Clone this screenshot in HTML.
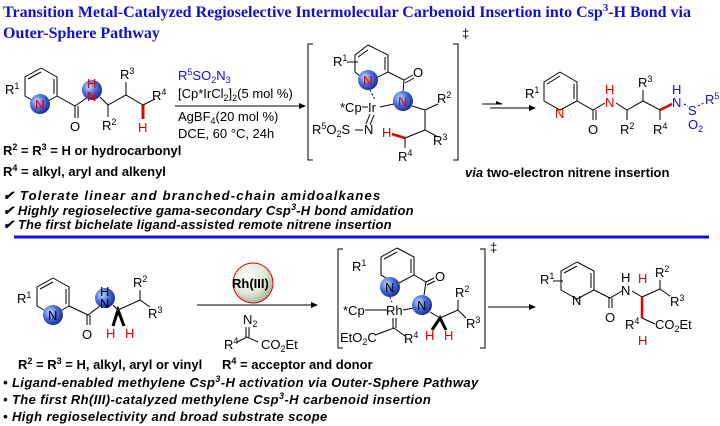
<!DOCTYPE html>
<html><head><meta charset="utf-8"><style>
html,body{margin:0;padding:0;background:#fff}
svg{display:block}
text{font-family:"Liberation Sans",Arial,sans-serif;font-size:13px;fill:#000}
.t{font-family:"Liberation Serif",serif;font-weight:bold;font-size:16px;fill:#1010d0}
.b{font-weight:bold}
.bi{font-weight:bold;font-style:italic}
.r{fill:#e00000}
.bl{fill:#1010d0}
.s{font-size:9px}
line,polyline,path{stroke:#000;stroke-width:1;fill:none}
path.ah{fill:#000;stroke:none}
</style></head><body>
<svg width="720" height="426" viewBox="0 0 720 426" xmlns="http://www.w3.org/2000/svg">
<defs>
<radialGradient id="g" cx="35%" cy="35%" r="70%"><stop offset="0" stop-color="#c8d8ff"/><stop offset="0.5" stop-color="#4a70e0"/><stop offset="1" stop-color="#1a2a90"/></radialGradient>
<radialGradient id="g2" cx="40%" cy="35%" r="70%"><stop offset="0" stop-color="#ffffff"/><stop offset="0.6" stop-color="#dfe8d8"/><stop offset="1" stop-color="#9ab090"/></radialGradient>
</defs>
<!-- title -->
<text class="t" x="3" y="17">Transition Metal-Catalyzed Regioselective Intermolecular Carbenoid Insertion into Csp<tspan dy="-6" font-size="11">3</tspan><tspan dy="6">-H Bond via</tspan></text>
<text class="t" x="3" y="38">Outer-Sphere Pathway</text>

<!-- top-left molecule -->
<polyline points="41,68 57,77 57,96 41,105 25,96 25,77 41,68"/>
<line x1="28" y1="79" x2="41" y2="72"/><line x1="54" y1="79" x2="54" y2="94"/>
<circle cx="40" cy="104" r="10" fill="url(#g)" stroke="none"/>
<text class="r" x="35" y="109" font-size="12">N</text>
<text x="5" y="94">R<tspan class="s" dy="-5">1</tspan></text>
<polyline points="57,96 75,106 88,97"/>
<line x1="75" y1="106" x2="75" y2="118"/><line x1="78" y1="106" x2="78" y2="118"/>
<text x="70" y="131">O</text>
<circle cx="92" cy="90" r="10" fill="url(#g)" stroke="none"/>
<text class="r" x="87" y="88" font-size="12">H</text><text class="r" x="87" y="101" font-size="12">N</text>
<polyline points="100,97 108,105 126,95 143,105"/>
<line x1="126" y1="95" x2="126" y2="82"/>
<text x="120" y="79">R<tspan class="s" dy="-5">3</tspan></text>
<line x1="108" y1="105" x2="108" y2="117"/>
<text x="102" y="130">R<tspan class="s" dy="-5">2</tspan></text>
<line x1="143" y1="105" x2="155" y2="99"/>
<text x="152" y="100">R<tspan class="s" dy="-5">4</tspan></text>
<line x1="143" y1="105" x2="143" y2="119" style="stroke:#e00000;stroke-width:3"/>
<text class="r" x="138" y="132">H</text>

<!-- conditions 1 -->
<text class="bl" x="178" y="80">R<tspan class="s" dy="-5">5</tspan><tspan dy="5">SO</tspan><tspan class="s" dy="3">2</tspan><tspan dy="-3">N</tspan><tspan class="s" dy="3">3</tspan></text>
<text x="178" y="98">[Cp*IrCl<tspan class="s" dy="3">2</tspan><tspan dy="-3">]</tspan><tspan class="s" dy="3">2</tspan><tspan dy="-3">(5 mol %)</tspan></text>
<line x1="175" y1="106" x2="300" y2="106"/><path class="ah" d="M299,103 L306,106 L299,109 Z"/>
<text x="178" y="121">AgBF<tspan class="s" dy="3">4</tspan><tspan dy="-3">(20 mol %)</tspan></text>
<text x="178" y="138">DCE, 60 °C, 24h</text>
<text class="b" x="3" y="155">R<tspan class="s" dy="-5">2</tspan><tspan dy="5"> = R</tspan><tspan class="s" dy="-5">3</tspan><tspan dy="5"> = H or hydrocarbonyl</tspan></text>
<text class="b" x="3" y="176">R<tspan class="s" dy="-5">4</tspan><tspan dy="5"> = alkyl, aryl and alkenyl</tspan></text>

<!-- bracket 1 -->
<polyline points="313,44 308,44 308,160 313,160"/>
<polyline points="453,44 458,44 458,160 453,160"/>
<text x="462" y="38" font-size="11">‡</text>
<polyline points="368,45 388,55 388,72 368,82 355,72 355,55 368,45"/>
<line x1="358" y1="57" x2="368" y2="50"/><line x1="385" y1="57" x2="385" y2="70"/>
<text x="333" y="66">R<tspan class="s" dy="-5">1</tspan></text>
<line x1="347" y1="62" x2="358" y2="62"/>
<circle cx="368" cy="80" r="10" fill="url(#g)" stroke="none"/>
<text class="r" x="363" y="85" font-size="12">N</text>
<polyline points="388,72 404,80 403,92"/>
<line x1="404" y1="80" x2="413" y2="75"/><line x1="405" y1="83" x2="414" y2="78"/>
<text x="413" y="77">O</text>
<line x1="370" y1="90" x2="375" y2="100" stroke-dasharray="2,2"/>
<text x="340" y="112">*Cp</text><line x1="362" y1="107" x2="368" y2="107"/>
<text x="368" y="112">Ir</text>
<line x1="380" y1="107" x2="394" y2="104"/>
<circle cx="403" cy="101" r="10" fill="url(#g)" stroke="none"/>
<text class="r" x="398" y="106" font-size="12">N</text>
<line x1="370" y1="114" x2="366" y2="124"/><line x1="374" y1="115" x2="370" y2="125"/>
<text x="312" y="134">R<tspan class="s" dy="-5">5</tspan><tspan dy="5">O</tspan><tspan class="s" dy="3">2</tspan><tspan dy="-3">S</tspan></text>
<line x1="355" y1="130" x2="363" y2="130"/><text x="364" y="134">N</text>
<polyline points="412,106 425,110 438,104"/>
<text x="437" y="103">R<tspan class="s" dy="-5">2</tspan></text>
<polyline points="425,110 425,130 438,137"/>
<text x="433" y="145">R<tspan class="s" dy="-5">3</tspan></text>
<line x1="425" y1="130" x2="405" y2="138"/>
<line x1="405" y1="138" x2="392" y2="134" style="stroke:#e00000;stroke-width:2.5"/>
<text class="r" x="382" y="137">H</text>
<line x1="405" y1="138" x2="405" y2="148"/>
<text x="398" y="161">R<tspan class="s" dy="-5">4</tspan></text>

<!-- arrows -->
<line x1="482" y1="104" x2="502" y2="104"/><path class="ah" d="M496,101 L503,104 L496,104Z"/>
<line x1="490" y1="108" x2="533" y2="108"/><path class="ah" d="M529,105 L536,108 L529,111Z"/>

<!-- product 1 -->
<polyline points="560,72 577,82 577,101 560,110 544,101 544,82 560,72"/>
<line x1="547" y1="84" x2="560" y2="76"/><line x1="574" y1="84" x2="574" y2="99"/>
<text x="525" y="98">R<tspan class="s" dy="-5">1</tspan></text>
<text class="r" x="555" y="118">N</text>
<polyline points="577,101 593,110 605,103"/>
<line x1="593" y1="110" x2="593" y2="120"/><line x1="596" y1="110" x2="596" y2="120"/>
<text x="588" y="134">O</text>
<text class="r" x="605" y="94" font-size="12">H</text><text class="r" x="605" y="107">N</text>
<polyline points="616,103 627,110 643,101 660,110 670,105"/>
<line x1="643" y1="101" x2="643" y2="90"/>
<text x="638" y="87">R<tspan class="s" dy="-5">3</tspan></text>
<line x1="627" y1="110" x2="627" y2="120"/>
<text x="620" y="134">R<tspan class="s" dy="-5">2</tspan></text>
<line x1="660" y1="110" x2="660" y2="120"/>
<text x="653" y="134">R<tspan class="s" dy="-5">4</tspan></text>
<line x1="660" y1="110" x2="672" y2="104" style="stroke:#e00000;stroke-width:2.5"/>
<text class="bl" x="672" y="94" font-size="12">H</text><text class="bl" x="672" y="107">N</text>
<line x1="684" y1="104" x2="688" y2="106" stroke-dasharray="2,2"/>
<text class="bl" x="688" y="115">S</text>
<line x1="698" y1="106" x2="704" y2="103" stroke-dasharray="2,2"/>
<text class="bl" x="705" y="104">R<tspan class="s" dy="-5">5</tspan></text>
<text class="bl" x="688" y="129">O<tspan class="s" dy="3">2</tspan></text>
<text class="b" x="465" y="177"><tspan font-style="italic">via</tspan>  two-electron nitrene insertion</text>

<!-- bullets 1 -->
<text class="bi" x="3" y="200" font-size="12" letter-spacing="1.2">✔ Tolerate linear and branched-chain amidoalkanes</text>
<text class="bi" x="3" y="215" font-size="12" letter-spacing="0.2">✔ Highly regioselective gama-secondary Csp<tspan dy="-5" font-size="9">3</tspan><tspan dy="5">-H bond amidation</tspan></text>
<text class="bi" x="3" y="229" font-size="12" letter-spacing="0.2">✔ The first bichelate ligand-assisted remote nitrene insertion</text>
<line x1="14" y1="237" x2="709" y2="237" style="stroke:#1010e0;stroke-width:3"/>

<!-- bottom-left molecule -->
<polyline points="53,278 69,287 69,306 53,315 37,306 37,287 53,278"/>
<line x1="40" y1="289" x2="53" y2="282"/><line x1="66" y1="289" x2="66" y2="304"/>
<text x="17" y="303">R<tspan class="s" dy="-5">1</tspan></text>
<circle cx="53" cy="315" r="10" fill="url(#g)" stroke="none"/>
<text x="48" y="320" font-size="12">N</text>
<polyline points="69,306 88,315 100,306"/>
<line x1="87" y1="315" x2="87" y2="325"/><line x1="90" y1="315" x2="90" y2="325"/>
<text x="82" y="339">O</text>
<circle cx="105" cy="298" r="10" fill="url(#g)" stroke="none"/>
<text x="100" y="296" font-size="12">H</text><text x="100" y="308" font-size="12">N</text>
<polyline points="113,305 118,310 140,300"/>
<path d="M113,326 L118,310 L124,326" style="stroke-width:3"/>
<text class="r" x="106" y="338">H</text><text class="r" x="125" y="338">H</text>
<line x1="140" y1="300" x2="140" y2="290"/>
<text x="133" y="287">R<tspan class="s" dy="-5">2</tspan></text>
<line x1="140" y1="300" x2="150" y2="307"/>
<text x="148" y="318">R<tspan class="s" dy="-5">3</tspan></text>

<!-- Rh catalyst & conditions -->
<circle cx="253" cy="283" r="20" fill="url(#g2)" stroke="#e00000" stroke-width="1"/>
<text x="232" y="288" font-weight="bold">Rh(III)</text>
<line x1="197" y1="305" x2="312" y2="305"/><path class="ah" d="M311,302 L318,305 L311,308Z"/>
<text x="243" y="324">N<tspan class="s" dy="3">2</tspan></text>
<line x1="246" y1="327" x2="246" y2="337"/><line x1="249" y1="327" x2="249" y2="337"/>
<polyline points="237,342 247,337 258,342"/>
<text x="224" y="349">R<tspan class="s" dy="-5">4</tspan></text>
<text x="261" y="349">CO<tspan class="s" dy="3">2</tspan><tspan dy="-3">Et</tspan></text>
<text class="b" x="18" y="369">R<tspan class="s" dy="-5">2</tspan><tspan dy="5"> = R</tspan><tspan class="s" dy="-5">3</tspan><tspan dy="5"> = H, alkyl, aryl or vinyl</tspan></text>
<text class="b" x="222" y="369">R<tspan class="s" dy="-5">4</tspan><tspan dy="5"> = acceptor and donor</tspan></text>

<!-- bracket 2 -->
<polyline points="343,249 338,249 338,348 343,348"/>
<polyline points="480,249 485,249 485,348 480,348"/>
<text x="490" y="252" font-size="11">‡</text>
<polyline points="397,248 414,257 414,275 397,284 381,275 381,257 397,248"/>
<line x1="384" y1="259" x2="397" y2="252"/><line x1="411" y1="259" x2="411" y2="273"/>
<text x="352" y="271">R<tspan class="s" dy="-5">1</tspan></text>
<circle cx="390" cy="287" r="10" fill="url(#g)" stroke="none"/>
<text x="385" y="292" font-size="12">N</text>
<polyline points="414,275 426,282 424,295"/>
<line x1="426" y1="282" x2="434" y2="278"/><line x1="427" y1="285" x2="435" y2="281"/>
<text x="435" y="281">O</text>
<line x1="390" y1="297" x2="392" y2="302" stroke-dasharray="2,2"/>
<text x="343" y="315">*Cp</text><line x1="365" y1="310" x2="387" y2="310"/>
<text x="386" y="315">Rh</text><line x1="403" y1="310" x2="414" y2="308"/>
<circle cx="422" cy="305" r="10" fill="url(#g)" stroke="none"/>
<text x="417" y="310" font-size="12">N</text>
<line x1="393" y1="318" x2="393" y2="328"/><line x1="396" y1="318" x2="396" y2="328"/>
<polyline points="375,335 394,328 405,336"/>
<text x="340" y="342">EtO<tspan class="s" dy="3">2</tspan><tspan dy="-3">C</tspan></text>
<text x="404" y="343">R<tspan class="s" dy="-5">4</tspan></text>
<polyline points="430,312 440,318 458,310"/>
<path d="M432,330 L440,318 L446,330" style="stroke-width:3"/>
<text class="r" x="425" y="340">H</text><text class="r" x="444" y="340">H</text>
<line x1="458" y1="310" x2="458" y2="300"/>
<text x="455" y="297">R<tspan class="s" dy="-5">2</tspan></text>
<line x1="458" y1="310" x2="466" y2="318"/>
<text x="466" y="328">R<tspan class="s" dy="-5">3</tspan></text>

<line x1="488" y1="307" x2="530" y2="307"/><path class="ah" d="M529,304 L536,307 L529,310Z"/>

<!-- product 2 -->
<polyline points="577,262 594,271 594,290 577,299 561,290 561,271 577,262"/>
<line x1="564" y1="273" x2="577" y2="266"/><line x1="591" y1="273" x2="591" y2="288"/>
<text x="540" y="284">R<tspan class="s" dy="-5">1</tspan></text>
<line x1="553" y1="281" x2="563" y2="281"/>
<text x="572" y="305">N</text>
<polyline points="594,290 610,298 622,291"/>
<line x1="609" y1="298" x2="609" y2="308"/><line x1="612" y1="298" x2="612" y2="308"/>
<text x="605" y="322">O</text>
<text x="621" y="282" font-size="12">H</text><text x="621" y="295">N</text>
<line x1="632" y1="291" x2="642" y2="297"/>
<text class="r" x="638" y="283">H</text>
<line x1="642" y1="297" x2="660" y2="289"/>
<line x1="660" y1="289" x2="660" y2="280"/>
<text x="655" y="277">R<tspan class="s" dy="-5">2</tspan></text>
<line x1="660" y1="289" x2="670" y2="296"/>
<text x="670" y="306">R<tspan class="s" dy="-5">3</tspan></text>
<line x1="642" y1="297" x2="642" y2="318" style="stroke:#e00000;stroke-width:2.5"/>
<line x1="642" y1="318" x2="655" y2="324"/>
<text x="625" y="329">R<tspan class="s" dy="-5">4</tspan></text>
<text x="655" y="329">CO<tspan class="s" dy="3">2</tspan><tspan dy="-3">Et</tspan></text>
<text class="r" x="638" y="345">H</text>

<!-- bullets 2 -->
<text class="bi" x="3" y="387" font-size="12" letter-spacing="0.4">• Ligand-enabled methylene Csp<tspan dy="-5" font-size="9">3</tspan><tspan dy="5">-H activation via Outer-Sphere Pathway</tspan></text>
<text class="bi" x="3" y="404" font-size="12" letter-spacing="0.4">• The first Rh(III)-catalyzed methylene Csp<tspan dy="-5" font-size="9">3</tspan><tspan dy="5">-H carbenoid insertion</tspan></text>
<text class="bi" x="3" y="421" font-size="12" letter-spacing="0.4">•  High regioselectivity and broad substrate scope</text>
</svg>
</body></html>
